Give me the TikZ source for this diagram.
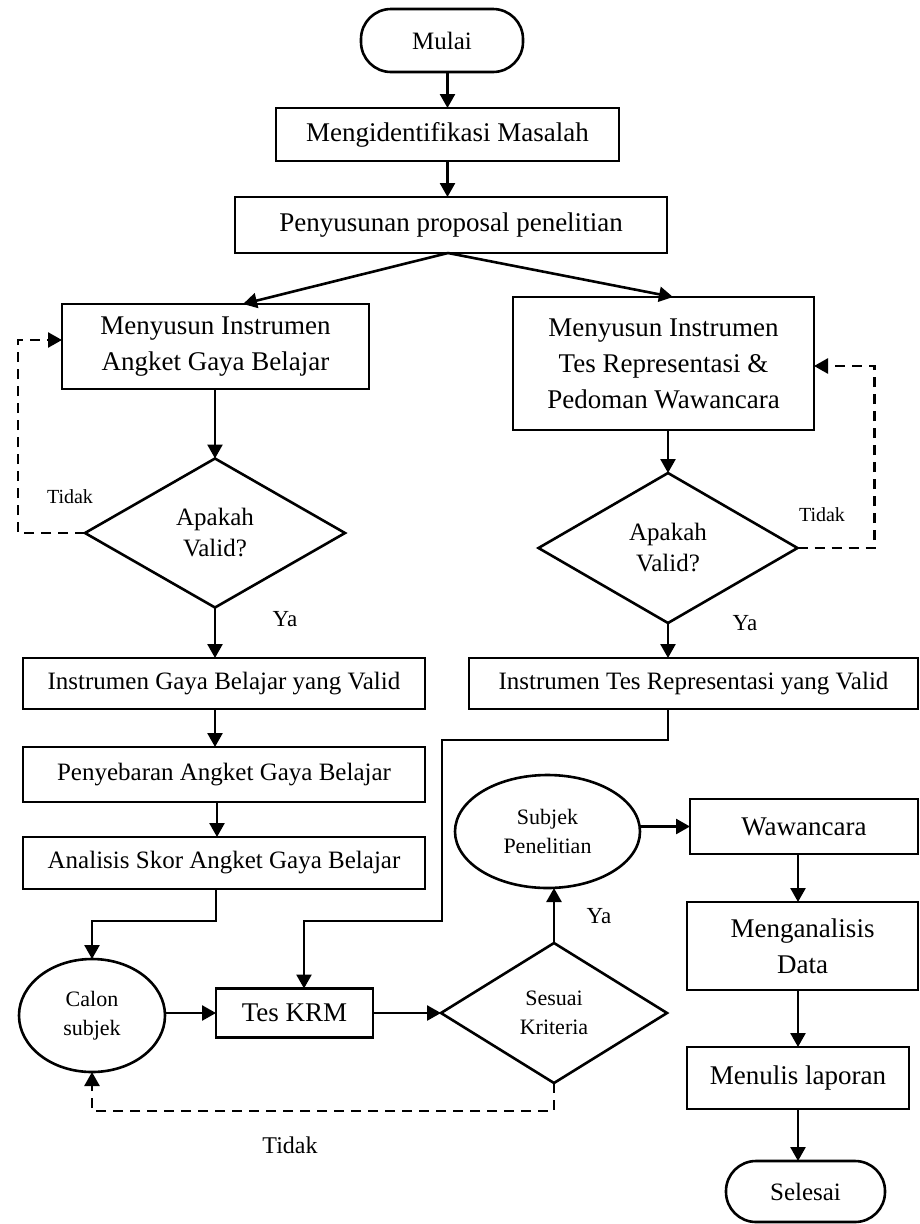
\documentclass[tikz,border=0pt]{standalone}
\usepackage{fontspec}
\setmainfont{Liberation Serif}
\usetikzlibrary{shapes.geometric,arrows.meta}

\begin{document}
\begin{tikzpicture}[x=1pt,y=-1pt,
  line width=2.6pt,
  every node/.style={inner sep=0pt, outer sep=0pt, align=center},
  proc/.style={draw, rectangle, font=\fontsize{27}{36}\selectfont},
  procs/.style={draw, rectangle, font=\fontsize{25}{32}\selectfont},
  term/.style={draw, rectangle, rounded corners=30pt, font=\fontsize{25}{30}\selectfont},
  decision/.style={draw, diamond, font=\fontsize{25}{31}\selectfont},
  oval/.style={draw, ellipse, font=\fontsize{22}{29}\selectfont},
  lbl/.style={font=\fontsize{20}{24}\selectfont},
  lblbig/.style={font=\fontsize{23}{28}\selectfont},
  arr/.style={-{Triangle[length=14pt,width=15pt]}},
  back/.style={arr, dash pattern=on 10pt off 7pt},
]
\useasboundingbox (0,0) rectangle (919,1224);

% --- main column: start, problem, proposal
\node[term, minimum width=162pt, minimum height=63pt] (mulai) at (442,40.5) {Mulai};
\node[proc, minimum width=343pt, minimum height=53pt] (ident) at (447.5,134.5) {Mengidentifikasi Masalah};
\node[proc, minimum width=432pt, minimum height=56pt] (prop) at (451,225) {Penyusunan proposal penelitian};

% --- two instrument branches
\node[proc, minimum width=307pt, minimum height=85pt] (angket) at (215.5,346.5) {Menyusun Instrumen\\Angket Gaya Belajar};
\node[proc, minimum width=301pt, minimum height=133pt] (tes) at (663.5,363.5) {Menyusun Instrumen\\Tes Representasi \&\\Pedoman Wawancara};
\node[decision, minimum width=260pt, minimum height=149pt] (validL) at (215,533) {Apakah\\Valid?};
\node[decision, minimum width=259pt, minimum height=150pt] (validR) at (668,548) {Apakah\\Valid?};
\node[procs, minimum width=402pt, minimum height=51pt] (igb) at (224,683.5) {Instrumen Gaya Belajar yang Valid};
\node[procs, minimum width=402pt, minimum height=55pt] (sebar) at (224,774.5) {Penyebaran Angket Gaya Belajar};
\node[procs, minimum width=402pt, minimum height=52pt] (skor) at (224,863) {Analisis Skor Angket Gaya Belajar};
\node[procs, minimum width=449pt, minimum height=51pt] (itr) at (693.5,683.5) {Instrumen Tes Representasi yang Valid};

% --- subject selection
\node[oval, minimum width=146pt, minimum height=113pt] (calon) at (92,1015.5) {Calon\\subjek};
\node[proc, minimum width=157pt, minimum height=49pt] (krm) at (294.5,1013) {Tes KRM};
\node[decision, font=\fontsize{22}{29}\selectfont, minimum width=226pt, minimum height=140pt] (sesuai) at (554,1013) {Sesuai\\Kriteria};
\node[oval, minimum width=185pt, minimum height=113pt] (subjek) at (547.5,831.5) {Subjek\\Penelitian};

% --- final steps
\node[proc, minimum width=228pt, minimum height=55pt] (wawan) at (804,826.5) {Wawancara};
\node[proc, minimum width=231pt, minimum height=88pt] (analisa) at (802.5,946) {Menganalisis\\Data};
\node[proc, minimum width=222pt, minimum height=62pt] (lapor) at (798,1078) {Menulis laporan};
\node[term, minimum width=159pt, minimum height=61pt] (selesai) at (805.5,1191.5) {Selesai};

% --- branch labels
\node[lbl] (tdkL) at (70,497) {Tidak};
\node[lbl] (tdkR) at (822,515) {Tidak};
\node[lblbig] (yaL) at (285,619) {Ya};
\node[lblbig] (yaR) at (745,623) {Ya};
\node[lblbig] (yaS) at (599,916) {Ya};
\node[font=\fontsize{24}{28}\selectfont] (tdkS) at (290,1145) {Tidak};

% --- helper corners of the long connector from the right branch
\coordinate (j1) at (442,740);
\coordinate (j2) at (442,921);

% --- connectors
\draw[arr] (ident.north |- mulai.south) -- (ident.north);
\draw[arr] (ident.south) -- (ident.south |- prop.north);
\draw[arr] ([xshift=-3pt]prop.south) -- ([xshift=27.5pt]angket.north);
\draw[arr] ([xshift=-3pt]prop.south) -- ([xshift=9.5pt]tes.north);

\draw[arr] (validL.north |- angket.south) -- (validL.north);
\draw[arr] (validL.south) -- (validL.south |- igb.north);
\draw[arr] (validL.south |- igb.south) -- (validL.south |- sebar.north);
\draw[arr] ([xshift=2pt]validL.south |- sebar.south) -- ([xshift=2pt]validL.south |- skor.north);
\draw[back] (validL.west) -- ++(-67,0) |- ([yshift=6.5pt]angket.west);

\draw[arr] (validR.north |- tes.south) -- (validR.north);
\draw[arr] (validR.south) -- (validR.south |- itr.north);
\draw[back] (validR.east) -- ++(77,0) |- ([yshift=-2.5pt]tes.east);

\draw[arr] (validR.south |- itr.south) |- (j1) -- (j2) -| ([xshift=9.5pt]krm.north);
\draw[arr] ([xshift=-8pt]skor.south) -- ++(0,32) -| (calon.north);

\draw[arr] (calon.east |- krm.west) -- (krm.west);
\draw[arr] (krm.east) -- (sesuai.west);
\draw[arr] (sesuai.north) -- (sesuai.north |- subjek.south);
\draw[back] (sesuai.south) -- ++(0,28) -| (calon.south);

\draw[arr] (subjek.east |- wawan.west) -- (wawan.west);
\draw[arr] ([xshift=-6pt]wawan.south) -- ([xshift=-6pt]wawan.south |- analisa.north);
\draw[arr] (lapor.north |- analisa.south) -- (lapor.north);
\draw[arr] (lapor.south) -- (lapor.south |- selesai.north);
\end{tikzpicture}
\end{document}
